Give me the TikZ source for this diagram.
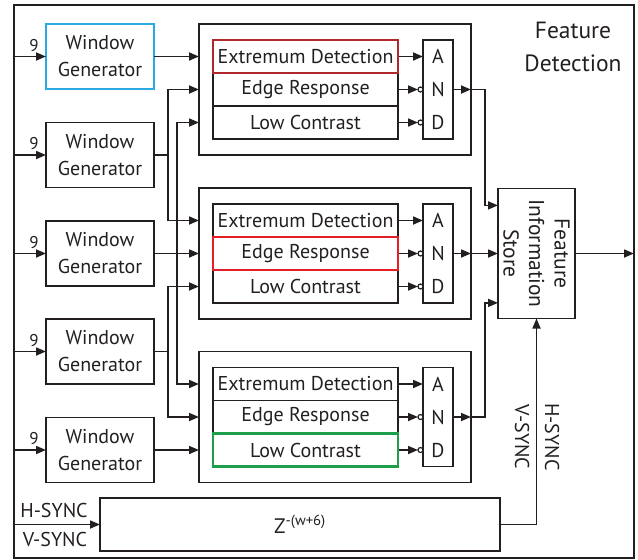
\documentclass[tikz,border=0pt]{standalone}
\usepackage{fontspec}
\setmainfont{PT Sans}
\usetikzlibrary{arrows.meta,calc}
\definecolor{inkc}{HTML}{231F20}
\definecolor{cyanb}{HTML}{29A9E0}
\definecolor{darkredb}{HTML}{B0282E}
\definecolor{redb}{HTML}{E31E24}
\definecolor{greenb}{HTML}{1E9E4A}
\begin{document}
\begin{tikzpicture}[x=1pt,y=-1pt,
  every node/.style={inner sep=0pt,outer sep=0pt,text=inkc},
  ln/.style={line width=1.7pt,draw=inkc},
  arr/.style={ln,-{Triangle[length=10pt,width=8pt]}},
  wg/.style={draw,ln,minimum width=108pt,minimum height=65pt,align=center,font=\fontsize{20}{27}\selectfont},
  blk/.style={draw,ln,minimum width=272pt,minimum height=131pt},
  rowbox/.style={draw,ln,minimum width=185pt,minimum height=33pt,font=\fontsize{20}{23}\selectfont},
  andg/.style={draw,ln,minimum width=30pt,minimum height=99pt,align=center,font=\fontsize{20}{33}\selectfont},
  lbl/.style={font=\fontsize{20}{25}\selectfont},
  bus/.style={font=\fontsize{17}{20}\selectfont}
]
\useasboundingbox (0,0) rectangle (638,560);
\node[draw,ln,minimum width=620pt,minimum height=553pt] (frame) at (324,281.5) {};
\node[align=center,font=\fontsize{23.5}{33}\selectfont] (fd) at (573,47) {Feature\\Detection};

% window generators
\node[wg,draw=cyanb,line width=2.2pt] (wg1) at (100,56.5) {Window\\Generator};
\node[wg] (wg2) at (100,155) {Window\\Generator};
\node[wg] (wg3) at (100,253.5) {Window\\Generator};
\node[wg] (wg4) at (100,351.5) {Window\\Generator};
\node[wg] (wg5) at (100,450) {Window\\Generator};
\foreach \i in {1,...,5}{
  \draw[arr] (wg\i.west -| frame.west) -- (wg\i.west);
  \node[bus] (nine\i) at ($(wg\i.west)+(-12,-11)$) {9};
}

% detection blocks
\foreach \b/\y in {1/89.5,2/253.5,3/417}{
  \node[blk] (b\b) at (335,\y) {};
  \node[rowbox] (r\b1) at (305.5,\y-33) {Extremum Detection};
  \node[rowbox] (r\b2) at (305.5,\y) {Edge Response};
  \node[rowbox] (r\b3) at (305.5,\y+33) {Low Contrast};
  \node[andg] (and\b) at (438,\y) {A\\N\\D};
  \draw[arr] (r\b1.east) -- (r\b1 -| and\b.west);
  \draw[arr] (r\b2.east) -- ($(r\b2 -| and\b.west)+(-5,0)$);
  \draw[line width=1.2pt,draw=inkc,fill=white] ($(r\b2 -| and\b.west)+(-2.5,0)$) circle (2.5pt);
  \draw[arr] (r\b3.east) -- ($(r\b3 -| and\b.west)+(-5,0)$);
  \draw[line width=1.2pt,draw=inkc,fill=white] ($(r\b3 -| and\b.west)+(-2.5,0)$) circle (2.5pt);
  \draw[arr] (and\b.east) -- (and\b -| b\b.east);
}
\draw[darkredb,line width=2.2pt] (r11.north west) rectangle (r11.south east);
\draw[redb,line width=2.2pt] (r22.north west) rectangle (r22.south east);
\draw[greenb,line width=2.2pt] (r33.north west) rectangle (r33.south east);

% routing from window generators
\coordinate (busA) at (168,0);
\coordinate (busB) at (177,0);
\draw[arr] (wg1.east) -- (r11 -| b1.west);
\draw[arr] (wg2.east) -- (wg2.east -| busA) |- (r12 -| b1.west);
\draw[arr] (wg2.east -| busA) |- (r21 -| b2.west);
\draw[arr] (wg3.east) -- (r22 -| b2.west);
\draw[arr] (wg3.east -| busB) |- (r13 -| b1.west);
\draw[arr] (wg3.east -| busB) |- (r31 -| b3.west);
\draw[arr] (wg4.east) -- (wg4.east -| busA) |- (r23 -| b2.west);
\draw[arr] (wg4.east -| busA) |- (r32 -| b3.west);
\draw[arr] (wg5.east) -- (r33 -| b3.west);

% feature information store
\node[draw,ln,minimum width=77pt,minimum height=130pt] (fis) at (536.5,253.5) {};
\node[rotate=-90,align=center,font=\fontsize{21.5}{25.5}\selectfont] (fist) at (fis.center) {Feature\\Information\\Store};
\coordinate (fin1) at ($(fis.north west)!0.13!(fis.south west)$);
\coordinate (fin3) at ($(fis.north west)!0.88!(fis.south west)$);
\coordinate (busC) at (485,0);
\draw[arr] (and1 -| b1.east) -- (and1 -| busC) |- (fin1);
\draw[arr] (and2 -| b2.east) -- (fis.west);
\draw[arr] (and3 -| b3.east) -- (and3 -| busC) |- (fin3);
\draw[arr] (fis.east) -- (fis.east -| frame.east);

% delay line
\node[draw,ln,minimum width=400pt,minimum height=53pt,font=\fontsize{21}{24}\selectfont] (z) at (300,524.5) {Z\textsuperscript{-(w+6)}};
\node[lbl] (hs) at (54,510) {H-SYNC};
\node[lbl] (vs) at (55,539) {V-SYNC};
\draw[arr] (z.west -| frame.west) -- (z.west);
\draw[arr] (z.east) -| (fis.south);
\node[lbl,rotate=-90] (vs2) at (522,437) {V-SYNC};
\node[lbl,rotate=-90] (hs2) at (552,437) {H-SYNC};
\end{tikzpicture}
\end{document}
